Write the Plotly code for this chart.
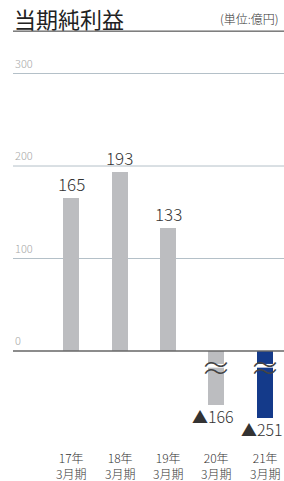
import plotly.graph_objects as go

categories = ["17年<br>3月期", "18年<br>3月期", "19年<br>3月期", "20年<br>3月期", "21年<br>3月期"]
values = [165, 193, 133, -166, -251]
# drawn (truncated by axis break) bar lengths as seen in the picture
drawn = [165, 193, 133, -58, -72]
colors = ["#bcbdc0", "#bcbdc0", "#bcbdc0", "#bcbdc0", "#143a8a"]
ytick_vals = [0, 100, 200, 300]

FONT = "Noto Sans CJK JP"
xs = list(range(len(categories)))

fig = go.Figure()
fig.add_trace(go.Bar(x=xs, y=drawn, marker=dict(color=colors, line=dict(width=0)),
                     width=0.33, hoverinfo="skip"))

annotations = []
for i, (v, d) in enumerate(zip(values, drawn)):
    if v >= 0:
        annotations.append(dict(x=i, y=d, xref="x", yref="y", text=str(v), showarrow=False,
                                yanchor="bottom", yshift=0,
                                font=dict(family=FONT, size=17, color="#333", weight=300)))
    else:
        annotations.append(dict(x=i, y=d, xref="x", yref="y", text="▲" + str(-v), showarrow=False,
                                yanchor="top", yshift=3, xshift=-3,
                                font=dict(family=FONT, size=16, color="#333", weight=300)))
        annotations.append(dict(x=i, y=-16, xref="x", yref="y", text="≈", showarrow=False,
                                yanchor="middle",
                                font=dict(family=FONT, size=30, color="#444", weight=300)))
    annotations.append(dict(x=i, y=-0.097, xref="x", yref="paper", text=categories[i], showarrow=False,
                            yanchor="middle", align="center",
                            font=dict(family=FONT, size=12, color="#333", weight=300)))
for t in ytick_vals:
    annotations.append(dict(x=0, y=t, xref="paper", yref="y", text=str(t), showarrow=False,
                            xanchor="left", yanchor="bottom", yshift=1,
                            font=dict(family=FONT, size=11, color="#a8a8a8", weight=300)))
annotations.append(dict(x=1, y=1.111, xref="paper", yref="paper", text="(単位:億円)", showarrow=False,
                        xanchor="right", yanchor="middle", xshift=-3,
                        font=dict(family=FONT, size=12, color="#333", weight=300)))
# chart title
annotations.append(dict(x=0, y=1.162, xref="paper", yref="paper", text="当期純利益", showarrow=False,
                        xanchor="left", yanchor="top", xshift=-1,
                        font=dict(family=FONT, size=22, color="#222")))

shapes = [dict(type="line", xref="paper", yref="paper", x0=0, x1=1, y0=1.078, y1=1.078,
               line=dict(color="#333", width=1))]
for t in ytick_vals:
    shapes.append(dict(type="line", xref="paper", yref="y", x0=0, x1=1, y0=t, y1=t,
                       line=dict(color="#666" if t == 0 else "#b4c0c8", width=1.5 if t == 0 else 1),
                       layer="below" if t != 0 else "above"))
# white gap of the axis-break symbols
for i, v in enumerate(values):
    if v < 0:
        shapes.append(dict(type="rect", xref="x", yref="y", x0=i - 0.22, x1=i + 0.22, y0=-18, y1=-14,
                           fillcolor="white", line=dict(width=0), layer="above"))

fig.update_layout(
    width=284, height=481,
    margin=dict(l=13, r=0, t=60, b=51),
    paper_bgcolor="white", plot_bgcolor="white",
    showlegend=False,
    xaxis=dict(range=[-1.196, 4.392], showticklabels=False, showgrid=False, zeroline=False,
               fixedrange=True),
    yaxis=dict(range=[-85.4, 314.6], showticklabels=False, showgrid=False, zeroline=False,
               fixedrange=True),
    annotations=annotations, shapes=shapes, bargap=0,
)
fig.write_html("out.html", config={"displayModeBar": False},
               post_script="document.body.style.margin='0';document.body.style.overflow='hidden';")
